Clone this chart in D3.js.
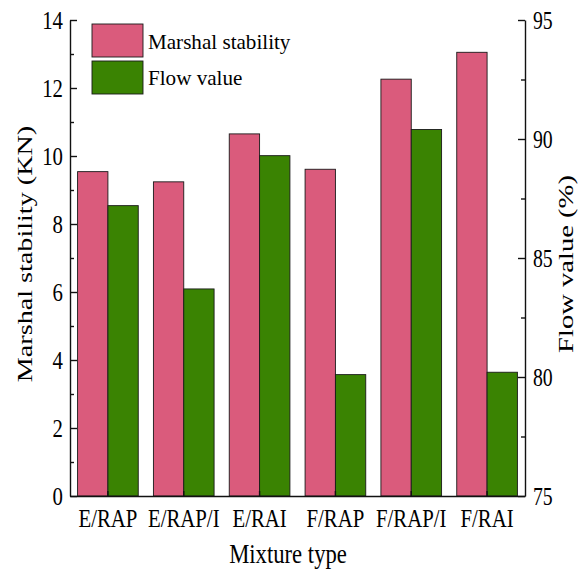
<!DOCTYPE html>
<html>
<head>
<meta charset="utf-8">
<script src="https://cdn.jsdelivr.net/npm/d3@7"></script>
<style>
  html, body { margin: 0; padding: 0; background: #fff; }
  svg text { font-family: "Liberation Serif", "Times New Roman", serif; fill: #000; }
</style>
</head>
<body>
<svg id="chart" width="579" height="573"></svg>
<script>
// Mixture types and measured values
const categories = ["E/RAP", "E/RAP/I", "E/RAI", "F/RAP", "F/RAP/I", "F/RAI"];
const marshalStability = [9.54, 9.24, 10.65, 9.61, 12.26, 13.05]; // KN, left axis
const flowValue = [87.2, 83.7, 89.3, 80.1, 90.4, 80.2];            // %, right axis
const leftTicks = [0, 2, 4, 6, 8, 10, 12, 14];
const rightTicks = [75, 80, 85, 90, 95];
const seriesNames = ["Marshal stability", "Flow value"];

const colors = { marshal: "#DA5B7C", flow: "#3A8302", edge: "#1a1a1a" };
const serif = "'Liberation Serif', 'Times New Roman', serif";

const svg = d3.select("#chart");
const plot = { left: 70, right: 525, top: 20, bottom: 496 };

const x0 = d3.scaleBand().domain(categories)
  .range([plot.left, plot.right]).paddingInner(0.2).paddingOuter(0.1);
const x1 = d3.scaleBand().domain([0, 1]).range([0, x0.bandwidth()]);
const yL = d3.scaleLinear().domain([0, 14]).range([plot.bottom, plot.top]);
const yR = d3.scaleLinear().domain([75, 95]).range([plot.bottom, plot.top]);

// Bars
const g = svg.append("g");
g.selectAll("rect.ms").data(categories).join("rect")
  .attr("class", "ms")
  .attr("x", (d) => x0(d) + x1(0))
  .attr("width", x1.bandwidth())
  .attr("y", (d, i) => yL(marshalStability[i]))
  .attr("height", (d, i) => yL(0) - yL(marshalStability[i]))
  .attr("fill", colors.marshal)
  .attr("stroke", colors.edge).attr("stroke-width", 0.9);
g.selectAll("rect.fv").data(categories).join("rect")
  .attr("class", "fv")
  .attr("x", (d) => x0(d) + x1(1))
  .attr("width", x1.bandwidth())
  .attr("y", (d, i) => yR(flowValue[i]))
  .attr("height", (d, i) => yR(75) - yR(flowValue[i]))
  .attr("fill", colors.flow)
  .attr("stroke", colors.edge).attr("stroke-width", 0.9);

// Condense horizontal glyphs
function squeeze(sel, sx) {
  sel.each(function () {
    const t = d3.select(this);
    const xv = +t.attr("x") || 0;
    t.attr("x", xv / sx).attr("transform", `scale(${sx},1)`);
  });
}

// Left axis
const axL = svg.append("g").attr("transform", `translate(${plot.left},0)`)
  .call(d3.axisLeft(yL).tickValues(leftTicks).tickSize(-7).tickSizeOuter(0).tickPadding(7));
axL.selectAll("text").style("font-size", "26px");
squeeze(axL.selectAll("text"), 0.8);
svg.append("g").attr("transform", `translate(${plot.left},0)`)
  .call(d3.axisLeft(yL).tickValues(d3.range(1, 14, 2)).tickSize(-4).tickFormat(""))
  .select(".domain").remove();

// Right axis
const axR = svg.append("g").attr("transform", `translate(${plot.right},0)`)
  .call(d3.axisRight(yR).tickValues(rightTicks).tickSize(-7).tickSizeOuter(0).tickPadding(8));
axR.selectAll("text").style("font-size", "26px");
squeeze(axR.selectAll("text"), 0.76);
svg.append("g").attr("transform", `translate(${plot.right},0)`)
  .call(d3.axisRight(yR).tickValues([77.5, 82.5, 87.5, 92.5]).tickSize(-4).tickFormat(""))
  .select(".domain").remove();

// Bottom axis
const axB = svg.append("g").attr("transform", `translate(0,${plot.bottom})`)
  .call(d3.axisBottom(x0).tickSize(-5).tickSizeOuter(0));
axB.selectAll("text").attr("y", 31).attr("dy", null).style("font-size", "26px");
squeeze(axB.selectAll("text"), 0.8);

svg.selectAll("g").attr("font-family", serif);
svg.selectAll(".domain").attr("stroke", "#111").attr("stroke-width", 1.4);
svg.selectAll(".tick line").attr("stroke", "#111").attr("stroke-width", 1.4);

// Axis titles
svg.append("text")
  .attr("text-anchor", "middle")
  .attr("transform", `translate(288,563) scale(0.84,1)`)
  .style("font-size", "27px").text("Mixture type");
svg.append("text")
  .attr("text-anchor", "middle")
  .attr("transform", `translate(32,254) rotate(-90) scale(1.28,1)`)
  .style("font-size", "22px").text("Marshal stability (KN)");
svg.append("text")
  .attr("text-anchor", "middle")
  .attr("transform", `translate(573,264) rotate(-90) scale(1.3,1)`)
  .style("font-size", "22px").text("Flow value (%)");

// Legend
const legend = svg.append("g");
const legendColors = [colors.marshal, colors.flow];
legend.selectAll("rect").data(seriesNames).join("rect")
  .attr("x", 92).attr("y", (d, i) => 24 + i * 37)
  .attr("width", 51).attr("height", 33)
  .attr("fill", (d, i) => legendColors[i])
  .attr("stroke", colors.edge).attr("stroke-width", 0.9);
legend.selectAll("text").data(seriesNames).join("text")
  .attr("y", (d, i) => 49 + i * 36)
  .style("font-size", "22px")
  .attr("transform", "scale(0.96,1)")
  .attr("x", 148 / 0.96)
  .text((d) => d);
</script>
</body>
</html>
